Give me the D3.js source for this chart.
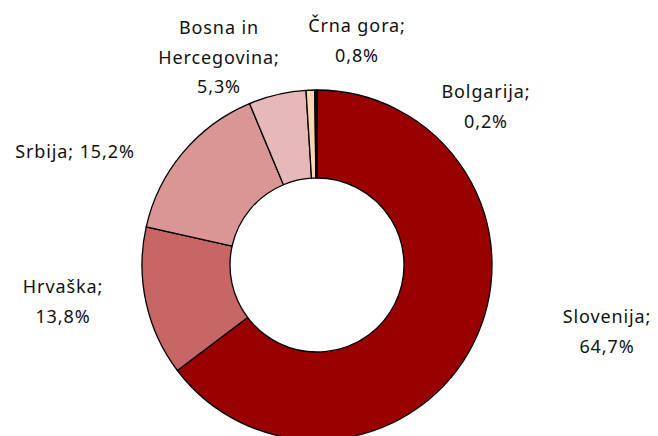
<!DOCTYPE html>
<html>
<head>
<meta charset="utf-8">
<script src="https://cdn.jsdelivr.net/npm/d3@7"></script>
<style>
  html, body { margin: 0; padding: 0; background: #fff; }
  svg { display: block; }
</style>
</head>
<body>
<div id="chart"></div>
<script>
// shares by country, clockwise from 12 o'clock
const countries = ['Slovenija', 'Hrvaška', 'Srbija', 'Bosna in Hercegovina', 'Črna gora', 'Bolgarija'];
const shares = [64.7, 13.8, 15.2, 5.3, 0.8, 0.2];
const sliceColors = ['#990000', '#c86666', '#d99694', '#e6b9b8', '#fcd5b4', '#1a1a1a'];

// label lines as Excel wrapped them
const labelLines = [
  ['Slovenija;', '64,7%'],
  ['Hrvaška;', '13,8%'],
  ['Srbija; 15,2%'],
  ['Bosna in', 'Hercegovina;', '5,3%'],
  ['Črna gora;', '0,8%'],
  ['Bolgarija;', '0,2%']
];
// label anchor (centre of first baseline)
const labelAnchors = [[607, 323], [63, 293], [75, 158], [219, 34], [357, 32], [486, 98]];

const width = 658, height = 436;
const cx = 317, cy = 265;
const outerR = 175, innerR = 87;
const lineH = 29.5;

const svg = d3.select('#chart').append('svg')
  .attr('width', width)
  .attr('height', height);

const data = countries.map((c, i) => ({ name: c, value: shares[i] }));

const pie = d3.pie()
  .sort(null)
  .value(d => d.value);

const arc = d3.arc()
  .innerRadius(innerR)
  .outerRadius(outerR);

const g = svg.append('g')
  .attr('transform', `translate(${cx},${cy})`);

g.selectAll('path')
  .data(pie(data))
  .enter()
  .append('path')
  .attr('d', arc)
  .attr('fill', (d, i) => sliceColors[i])
  .attr('stroke', '#000')
  .attr('stroke-width', 1.3)
  .attr('stroke-linejoin', 'round');

const labels = svg.append('g')
  .attr('font-family', '"Noto Sans", "Open Sans", sans-serif')
  .attr('font-size', '18px')
  .attr('letter-spacing', '0.9px')
  .attr('fill', '#111')
  .attr('text-anchor', 'middle');

data.forEach((d, i) => {
  const t = labels.append('text')
    .attr('x', labelAnchors[i][0])
    .attr('y', labelAnchors[i][1]);
  labelLines[i].forEach((line, j) => {
    t.append('tspan')
      .attr('x', labelAnchors[i][0])
      .attr('y', labelAnchors[i][1] + j * lineH)
      .text(line);
  });
});
</script>
</body>
</html>
